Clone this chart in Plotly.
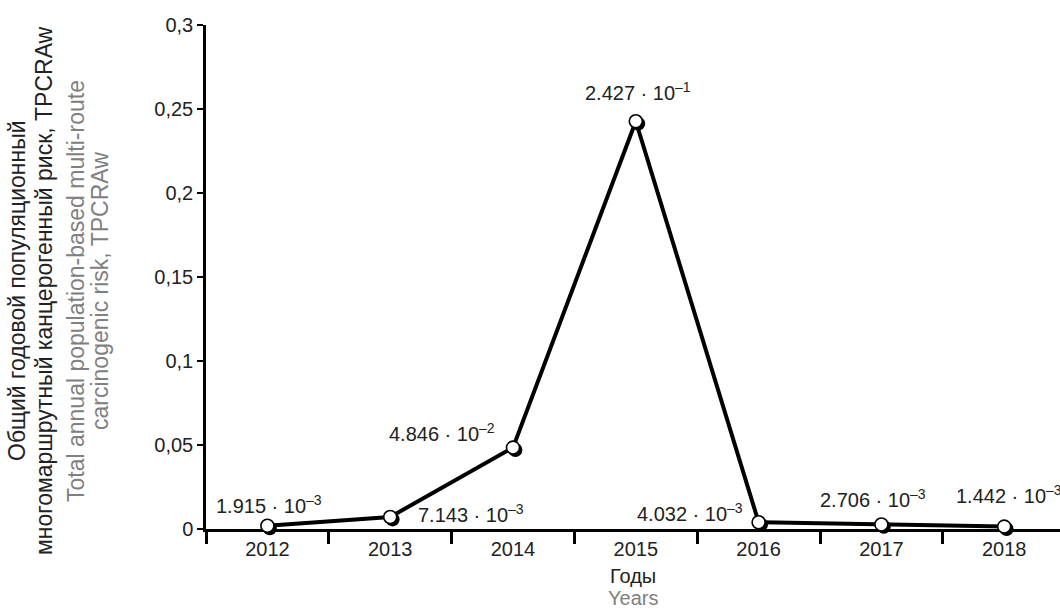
import plotly.graph_objects as go

# Annual total population-based multi-route carcinogenic risk (TPCRAw)
years = ["2012", "2013", "2014", "2015", "2016", "2017", "2018"]
risk = [1.915e-3, 7.143e-3, 4.846e-2, 2.427e-1, 4.032e-3, 2.706e-3, 1.442e-3]
mantissa = ["1.915", "7.143", "4.846", "2.427", "4.032", "2.706", "1.442"]
exponent = ["–3", "–3", "–2", "–1", "–3", "–3", "–3"]
y_ticks = [0, 0.05, 0.1, 0.15, 0.2, 0.25, 0.3]
y_tick_text = ["0", "0,05", "0,1", "0,15", "0,2", "0,25", "0,3"]

# label placement around each point: (xanchor, xshift, yshift) in pixels
label_pos = [
    ("center", 2, 21),
    ("center", 81, 4),
    ("center", -71, 15),
    ("center", 2, 30),
    ("center", -69, 10),
    ("center", -8, 26),
    ("left", -50, 32),
]

# y-axis title lines: (text, colour, x position in px from the left edge)
y_title_lines = [
    ("Общий годовой популяционный", "#222222", 17),
    ("многомаршрутный канцерогенный риск, TPCRAw", "#222222", 44),
    ("Total annual population-based multi-route", "#808080", 76),
    ("carcinogenic risk, TPCRAw", "#808080", 100),
]

W, H = 1060, 611
L, R, T, B = 206, 0, 25, 82
cat_px = 122.8
plot_w = W - L - R
plot_h = H - T - B
x_range = [-0.5, -0.5 + plot_w / cat_px]
y_range = [0, 0.3]
px_per_unit_y = plot_h / (y_range[1] - y_range[0])

# shadow offset in pixels (down-right)
sdx, sdy = 2.4, 2.4
x_range_sh = [x_range[0] - sdx / cat_px, x_range[1] - sdx / cat_px]
y_range_sh = [y_range[0] + sdy / px_per_unit_y, y_range[1] + sdy / px_per_unit_y]

FONT = "Liberation Sans, Arial, sans-serif"
TXT = "#222222"
idx = list(range(len(years)))

fig = go.Figure()

# drop shadow under markers
fig.add_trace(go.Scatter(
    x=idx, y=risk, xaxis="x", yaxis="y", mode="markers",
    marker=dict(size=14, color="black", line=dict(width=0)),
    hoverinfo="skip", showlegend=False, cliponaxis=False,
))

# main line with open markers
fig.add_trace(go.Scatter(
    x=idx, y=risk, xaxis="x2", yaxis="y2", mode="lines+markers",
    line=dict(color="black", width=4),
    marker=dict(size=13, color="white", line=dict(color="black", width=1.6)),
    showlegend=False, cliponaxis=False,
))

annotations = []
for i, (m, e) in enumerate(zip(mantissa, exponent)):
    xa, xs, ys = label_pos[i]
    annotations.append(dict(
        x=i, y=risk[i], xref="x2", yref="y2",
        text=f"{m} · 10<sup>{e}</sup>", showarrow=False,
        xanchor=xa, yanchor="middle", xshift=xs, yshift=ys,
        font=dict(family=FONT, size=20, color=TXT),
    ))

# y-axis titles (Russian / English), one rotated line each
for text, colour, xpos in y_title_lines:
    annotations.append(dict(
        x=0, y=0.5, xref="paper", yref="paper", xshift=xpos - L, yshift=-14,
        text=text, showarrow=False, textangle=-90,
        xanchor="center", yanchor="middle",
        font=dict(family=FONT, size=23, color=colour),
    ))

# x-axis titles
annotations.append(dict(
    x=0.5, y=0, xref="paper", yref="paper", yshift=-47,
    text="Годы", showarrow=False, xanchor="center", yanchor="middle",
    font=dict(family=FONT, size=20, color=TXT),
))
annotations.append(dict(
    x=0.5, y=0, xref="paper", yref="paper", yshift=-69,
    text="Years", showarrow=False, xanchor="center", yanchor="middle",
    font=dict(family=FONT, size=20, color="#808080"),
))

hidden = dict(visible=False, showgrid=False, zeroline=False, fixedrange=True)

fig.update_layout(
    width=W, height=H,
    margin=dict(l=L, r=R, t=T, b=B, pad=0),
    paper_bgcolor="white", plot_bgcolor="white",
    font=dict(family=FONT, size=20, color=TXT),
    xaxis=dict(range=x_range_sh, **hidden),
    yaxis=dict(range=y_range_sh, **hidden),
    xaxis2=dict(
        overlaying="x", type="linear", range=x_range,
        tickmode="array", tickvals=idx, ticktext=years,
        showline=True, linecolor="black", linewidth=2.5,
        ticks="", showgrid=False, zeroline=False,
        tickfont=dict(family=FONT, size=20, color=TXT),
        layer="below traces", fixedrange=True,
    ),
    xaxis3=dict(
        overlaying="x", type="linear", range=x_range,
        tickmode="array", tickvals=[i - 0.5 for i in idx] + [len(idx) - 0.5],
        showticklabels=False, ticks="outside", ticklen=14, tickwidth=2.5,
        tickcolor="black", showline=False, showgrid=False, zeroline=False,
        layer="below traces", fixedrange=True, anchor="y2",
    ),
    yaxis2=dict(
        overlaying="y", range=y_range,
        tickmode="array", tickvals=y_ticks, ticktext=y_tick_text,
        showline=True, linecolor="black", linewidth=2.5,
        ticks="outside", ticklen=6, tickwidth=2, tickcolor="black",
        showgrid=False, zeroline=False,
        tickfont=dict(family=FONT, size=20, color=TXT),
        layer="below traces", fixedrange=True, anchor="x2",
    ),
    annotations=annotations,
)

# empty trace that makes the boundary-tick axis render
fig.add_trace(go.Scatter(x=[None], y=[None], xaxis="x3", yaxis="y2",
                         showlegend=False, hoverinfo="skip"))

fig.write_html("out.html", config={"displayModeBar": False})
